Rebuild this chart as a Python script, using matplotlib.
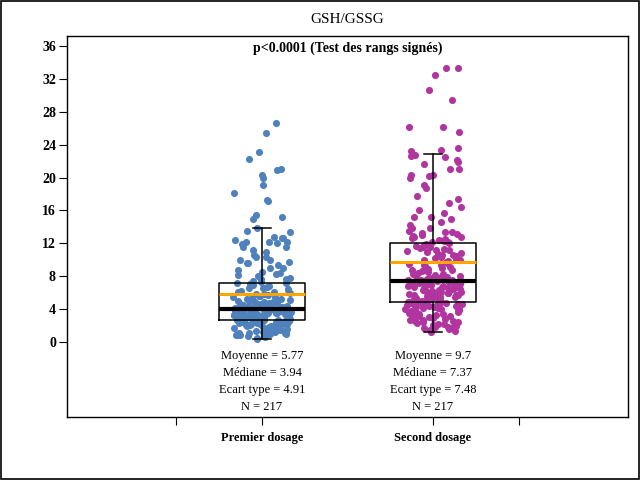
import numpy as np
import matplotlib
matplotlib.use('Agg')
from matplotlib import pyplot as plt
import matplotlib.patches as patches

plt.rcParams['font.family'] = ['Liberation Serif', 'DejaVu Serif']

# 数据: GSH/GSSG 两次检测
groups = ['Premier dosage', 'Second dosage']
positions = [1, 2]

premier = [
    26.6, 25.4, 23.1, 22.2, 21.0, 20.9, 20.3, 20.0, 19.1, 18.1,
    17.3, 17.2, 15.4, 15.2, 14.9, 13.9, 13.45, 13.4, 12.8, 12.6,
    12.6, 12.4, 12.2, 12.1, 12.1, 12.0, 11.9, 11.6, 11.5, 11.2,
    10.9, 10.6, 10.35, 10.35, 10.0, 9.95, 9.75, 9.55, 9.55, 9.3,
    9.0, 8.95, 8.7, 8.5, 8.4, 8.2, 8.1, 7.95, 7.8, 7.7,
    7.6, 7.45, 7.3, 7.2,
    7.1, 7.02, 6.9, 6.84, 6.71, 6.6, 6.52, 6.43, 6.3, 6.22,
    6.1, 6.04, 5.96, 5.83, 5.8, 5.71, 5.6, 5.53, 5.46, 5.41,
    5.3, 5.24, 5.17, 5.09, 5.0, 4.96, 4.88, 4.86, 4.8, 4.74,
    4.7, 4.66, 4.58, 4.55, 4.5, 4.44, 4.41, 4.37, 4.35, 4.3,
    4.27, 4.24, 4.2, 4.18, 4.14, 4.12, 4.1, 4.07, 4.05, 4.03,
    4.0, 3.98, 3.96, 3.95,
    3.94,
    3.92, 3.9, 3.87, 3.85, 3.83, 3.79, 3.78, 3.75, 3.71, 3.7,
    3.67, 3.64, 3.62, 3.6, 3.56, 3.55, 3.52, 3.49, 3.47, 3.45,
    3.41, 3.4, 3.37, 3.34, 3.32, 3.3, 3.26, 3.25, 3.22, 3.19,
    3.17, 3.15, 3.11, 3.1, 3.07, 3.04, 3.02, 3.0, 2.97, 2.94,
    2.92, 2.9, 2.86, 2.85, 2.82, 2.79, 2.77, 2.75, 2.71, 2.7,
    2.68, 2.67, 2.66, 2.65,
    2.62, 2.6, 2.57, 2.55, 2.51, 2.48, 2.45, 2.41, 2.38, 2.33,
    2.3, 2.27, 2.22, 2.2, 2.15, 2.11, 2.07, 2.03, 2.0, 1.96,
    1.92, 1.88, 1.85, 1.8, 1.76, 1.73, 1.7, 1.65, 1.6, 1.57,
    1.52, 1.5, 1.45, 1.41, 1.37, 1.32, 1.3, 1.25, 1.21, 1.17,
    1.12, 1.08, 1.05, 1.0, 0.95, 0.92, 0.88, 0.82, 0.78, 0.72,
    0.65, 0.58, 0.5, 0.4,
]

second = [
    33.3, 33.3, 32.45, 30.6, 29.4, 26.1, 26.1, 25.6, 23.55, 23.4,
    23.2, 22.8, 22.6, 22.5, 22.1, 21.9, 21.7, 21.0, 21.0, 20.3,
    20.3, 20.2, 19.9, 19.1, 18.75, 17.7, 17.35, 16.85, 16.45, 16.0,
    15.7, 15.15, 15.15, 14.9, 14.6, 14.2, 13.9, 13.9, 13.55, 13.4,
    13.4, 13.2, 13.1, 13.0, 12.9, 12.8, 12.75, 12.6, 12.5, 12.4,
    12.3, 12.2, 12.1, 12.05,
    11.95, 11.8, 11.72, 11.6, 11.5, 11.41, 11.3, 11.2, 11.12, 11.0,
    10.9, 10.82, 10.7, 10.6, 10.52, 10.4, 10.3, 10.22, 10.1, 10.0,
    9.9, 9.83, 9.7, 9.62, 9.5, 9.4, 9.33, 9.2, 9.1, 9.02,
    8.9, 8.8, 8.72, 8.6, 8.5, 8.42, 8.3, 8.21, 8.1, 8.02,
    7.95, 7.9, 7.84, 7.8, 7.74, 7.7, 7.64, 7.6, 7.55, 7.5,
    7.47, 7.44, 7.41, 7.39,
    7.37,
    7.34, 7.3, 7.25, 7.21, 7.16, 7.1, 7.06, 7.0, 6.95, 6.9,
    6.85, 6.8, 6.75, 6.7, 6.66, 6.6, 6.55, 6.5, 6.45, 6.4,
    6.35, 6.3, 6.25, 6.2, 6.15, 6.1, 6.05, 6.0, 5.95, 5.9,
    5.85, 5.8, 5.75, 5.7, 5.65, 5.6, 5.55, 5.5, 5.45, 5.4,
    5.35, 5.3, 5.25, 5.2, 5.15, 5.1, 5.05, 5.0, 4.96, 4.93,
    4.9, 4.88, 4.86, 4.84,
    4.8, 4.75, 4.7, 4.66, 4.6, 4.55, 4.5, 4.46, 4.4, 4.35,
    4.3, 4.25, 4.2, 4.15, 4.1, 4.05, 4.0, 3.95, 3.88, 3.8,
    3.72, 3.65, 3.6, 3.52, 3.45, 3.4, 3.33, 3.25, 3.2, 3.12,
    3.05, 2.98, 2.9, 2.85, 2.78, 2.7, 2.62, 2.55, 2.5, 2.42,
    2.35, 2.28, 2.2, 2.12, 2.05, 1.98, 1.9, 1.82, 1.75, 1.65,
    1.55, 1.45, 1.3, 1.17,
]

# 箱线图统计量
moyennes = [5.77, 9.7]
medianes = [3.94, 7.37]
ecarts = [4.91, 7.48]
effectifs = [217, 217]
q1 = [2.64, 4.83]
q3 = [7.15, 12.0]
whis_lo = [0.4, 1.17]
whis_hi = [13.85, 22.85]

couleurs = ['#4F81BD', '#B0359F']

fig = plt.figure(figsize=(6.4, 4.8), dpi=100)
ax = fig.add_axes([0.1047, 0.131, 0.8766, 0.794])

# 散点 (确定性抖动, 哈希序列)
for g, (pos, vals, col) in enumerate(zip(positions, [premier, second], couleurs)):
    idx = np.arange(len(vals)) + 1 + 300 * g
    h = np.sin(idx * 12.9898 + 78.233) * 43758.5453
    jitter = (h - np.floor(h) - 0.5) * 0.34
    ax.scatter(pos + jitter, vals, s=26, color=col, linewidths=0, zorder=1)

# 箱线图
stats = []
for i in range(2):
    stats.append({'med': medianes[i], 'q1': q1[i], 'q3': q3[i],
                  'whislo': whis_lo[i], 'whishi': whis_hi[i],
                  'mean': moyennes[i], 'fliers': []})
ax.bxp(stats, positions=positions, widths=0.5, capwidths=0.1,
       showmeans=True, meanline=True, showfliers=False, manage_ticks=False,
       boxprops=dict(color='black', linewidth=1.1),
       whiskerprops=dict(color='black', linewidth=1.1),
       capprops=dict(color='black', linewidth=1.1),
       medianprops=dict(color='black', linewidth=3),
       meanprops=dict(color='#FFA500', linestyle='-', linewidth=2.2),
       zorder=3)

# 统计文字
for pos, m, md, sd, n in zip(positions, moyennes, medianes, ecarts, effectifs):
    lignes = [f'Moyenne = {m}', f'Médiane = {md}', f'Ecart type = {sd}', f'N = {n}']
    for k, t in enumerate(lignes):
        ax.text(pos, -1.75 - 2.07 * k, t, ha='center', va='center', fontsize=9)

ax.text(0.5, 0.9685, 'p<0.0001 (Test des rangs signés)', transform=ax.transAxes,
        ha='center', va='center', fontsize=10, fontweight='bold')
fig.text(0.543, 0.96, 'GSH/GSSG', ha='center', va='center', fontsize=11)

ax.set_xlim(-0.14, 3.14)
ax.set_ylim(-9.17, 37.23)
ax.set_yticks(np.arange(0, 37, 4))
ax.set_xticks([0.5, 1, 2, 2.5])
ax.set_xticklabels(['', groups[0], groups[1], ''])
ax.tick_params(axis='y', direction='out', length=6, width=0.8, pad=2, labelsize=10)
ax.tick_params(axis='x', direction='out', length=6, width=0.8, pad=5, labelsize=9)
for lab in ax.get_yticklabels() + ax.get_xticklabels():
    lab.set_fontweight('bold')
for sp in ax.spines.values():
    sp.set_linewidth(1.0)

# 外框
fig.patches.append(patches.Rectangle((0.002, 0.002), 0.996, 0.996, transform=fig.transFigure,
                                     fill=False, edgecolor='black', linewidth=1.2))

plt.savefig('out.png', dpi=100)
